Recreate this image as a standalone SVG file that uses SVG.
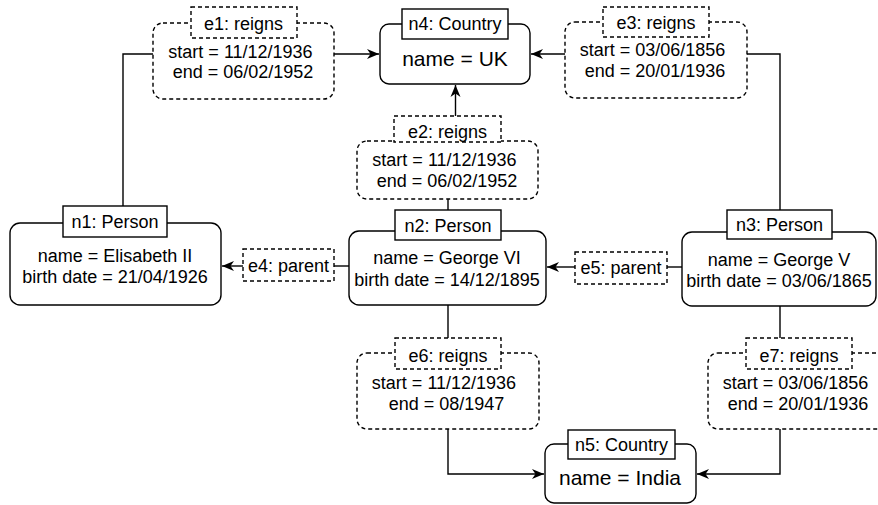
<svg xmlns="http://www.w3.org/2000/svg" width="878" height="505" viewBox="0 0 878 505">
<style>
text{font-family:"Liberation Sans",Arial,Helvetica,sans-serif;font-size:18px;fill:#000;text-anchor:middle;dominant-baseline:central}
.big{font-size:21px}
.node{fill:#fff;stroke:#000;stroke-width:1.4}
.edge{fill:#fff;stroke:#000;stroke-width:1.4;stroke-dasharray:4 3}
.ln{fill:none;stroke:#000;stroke-width:1.4}
</style>
<defs>
<marker id="arr" markerUnits="userSpaceOnUse" markerWidth="13" markerHeight="11" refX="12" refY="5.5" orient="auto">
<path d="M0,0.5 L12,5.5 L0,10.5 L3.5,5.5 Z" fill="#000"/>
</marker>
</defs>
<rect width="878" height="505" fill="#fff"/>
<g id="connectors">
<path class="ln" d="M123,206 V54 H153"/>
<path class="ln" d="M334,54 H379" marker-end="url(#arr)"/>
<path class="ln" d="M565,54 H531" marker-end="url(#arr)"/>
<path class="ln" d="M747,54 H780 V210"/>
<path class="ln" d="M455.5,116 V85" marker-end="url(#arr)"/>
<path class="ln" d="M448,210 V199"/>
<path class="ln" d="M349,266 H334"/>
<path class="ln" d="M243,266 H222" marker-end="url(#arr)"/>
<path class="ln" d="M682,267 H667"/>
<path class="ln" d="M575,267 H547" marker-end="url(#arr)"/>
<path class="ln" d="M448,305 V338"/>
<path class="ln" d="M780,306 V338"/>
<path class="ln" d="M448,429 V474 H544" marker-end="url(#arr)"/>
<path class="ln" d="M780,429 V474 H697" marker-end="url(#arr)"/>
</g>
<g id="n4">
<rect class="node" x="380" y="24" width="150" height="60" rx="9"/>
<rect class="node" x="402" y="9" width="106" height="30"/>
<text x="455" y="24">n4: Country</text>
<text class="big" x="455" y="58">name = UK</text>
</g>
<g id="n1">
<rect class="node" x="10" y="223" width="211" height="82" rx="10"/>
<rect class="node" x="63" y="206" width="104" height="31"/>
<text x="115" y="222">n1: Person</text>
<text x="115" y="256">name = Elisabeth II</text>
<text x="115" y="277">birth date = 21/04/1926</text>
</g>
<g id="n2">
<rect class="node" x="349" y="231" width="197" height="74" rx="10"/>
<rect class="node" x="395" y="210" width="106" height="30"/>
<text x="448" y="226">n2: Person</text>
<text x="447" y="258">name = George VI</text>
<text x="447" y="280">birth date = 14/12/1895</text>
</g>
<g id="n3">
<rect class="node" x="682" y="232" width="194" height="74" rx="10"/>
<rect class="node" x="727" y="210" width="105" height="29"/>
<text x="779.5" y="225">n3: Person</text>
<text x="779" y="260">name = George V</text>
<text x="779" y="281">birth date = 03/06/1865</text>
</g>
<g id="n5">
<rect class="node" x="545" y="444" width="151" height="59" rx="9"/>
<rect class="node" x="568" y="430" width="107" height="29"/>
<text x="621.5" y="445">n5: Country</text>
<text class="big" x="620" y="477">name = India</text>
</g>
<g id="e1">
<rect class="edge" x="153" y="23" width="181" height="76" rx="10"/>
<rect class="edge" x="191" y="7" width="106" height="31"/>
<text x="243.5" y="24">e1: reigns</text>
<text x="240.5" y="52">start = 11/12/1936</text>
<text x="243" y="72">end = 06/02/1952</text>
</g>
<g id="e2">
<rect class="edge" x="357" y="141" width="181" height="58" rx="10"/>
<rect class="edge" x="394" y="116" width="107" height="26"/>
<text x="447.5" y="132">e2: reigns</text>
<text x="444.5" y="160">start = 11/12/1936</text>
<text x="447" y="181">end = 06/02/1952</text>
</g>
<g id="e3">
<rect class="edge" x="565" y="22" width="182" height="76" rx="10"/>
<rect class="edge" x="603" y="7" width="106" height="30"/>
<text x="656" y="23">e3: reigns</text>
<text x="652.5" y="50">start = 03/06/1856</text>
<text x="655" y="71">end = 20/01/1936</text>
</g>
<g id="e4">
<rect class="edge" x="243" y="249" width="91" height="32"/>
<text x="288.5" y="266">e4: parent</text>
</g>
<g id="e5">
<rect class="edge" x="575" y="252" width="92" height="32"/>
<text x="621" y="268">e5: parent</text>
</g>
<g id="e6">
<rect class="edge" x="357" y="353" width="182" height="76" rx="10"/>
<rect class="edge" x="395" y="338" width="106" height="31"/>
<text x="448" y="356">e6: reigns</text>
<text x="444" y="383">start = 11/12/1936</text>
<text x="446.5" y="404">end = 08/1947</text>
</g>
<g id="e7">
<rect class="edge" x="708" y="353" width="182" height="76" rx="10"/>
<rect class="edge" x="746" y="338" width="106" height="31"/>
<text x="799" y="356">e7: reigns</text>
<text x="795.5" y="383">start = 03/06/1856</text>
<text x="798" y="404">end = 20/01/1936</text>
</g>
</svg>
